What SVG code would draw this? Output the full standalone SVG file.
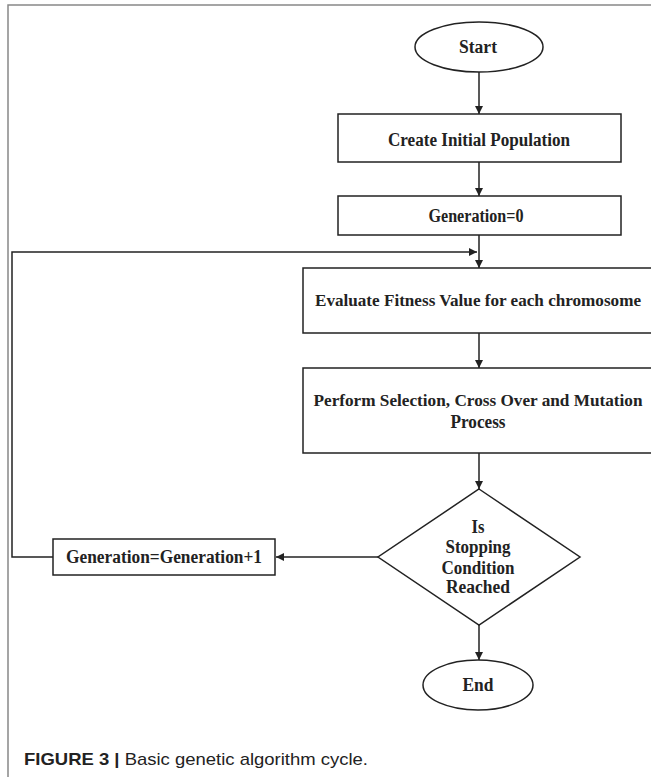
<svg xmlns="http://www.w3.org/2000/svg" width="651" height="777" viewBox="0 0 651 777">
<defs>
<style>
.n{fill:#fff;stroke:#222;stroke-width:1.5}
.t{font-family:"Liberation Serif","Times New Roman",serif;font-weight:bold;font-size:18.5px;fill:#222;text-anchor:middle}
.s{font-size:17px}
.c{fill:none;stroke:#222;stroke-width:1.5}
.cap{font-family:"Liberation Sans",Arial,sans-serif;font-size:17px;fill:#222}
</style>
<marker id="ah" viewBox="0 0 10 10" refX="10" refY="5" markerWidth="8" markerHeight="8" markerUnits="userSpaceOnUse" orient="auto">
<path d="M0,0 L10,5 L0,10 z" fill="#222"/>
</marker>
</defs>
<rect width="651" height="777" fill="#fff"/>
<g id="frame">
<path d="M8,777 V5 H651" fill="none" stroke="#888" stroke-width="1.5"/>
</g>
<g id="connectors">
<path class="c" d="M479,72 V114" marker-end="url(#ah)"/>
<path class="c" d="M479,162 V196" marker-end="url(#ah)"/>
<path class="c" d="M479,235 V268" marker-end="url(#ah)"/>
<path class="c" d="M479,333 V368" marker-end="url(#ah)"/>
<path class="c" d="M479,453 V489" marker-end="url(#ah)"/>
<path class="c" d="M378,557 H276" marker-end="url(#ah)"/>
<path class="c" d="M53,557 H12 V252 H477" marker-end="url(#ah)"/>
<path class="c" d="M479,625 V660" marker-end="url(#ah)"/>
</g>
<g id="start">
<ellipse class="n" cx="479" cy="47" rx="64" ry="25"/>
<text class="t" x="478" y="53" textLength="38" lengthAdjust="spacingAndGlyphs">Start</text>
</g>
<g id="create">
<rect class="n" x="338" y="114" width="283" height="48"/>
<text class="t" x="479" y="146" textLength="182" lengthAdjust="spacingAndGlyphs">Create Initial Population</text>
</g>
<g id="gen0">
<rect class="n" x="338" y="196" width="283" height="39"/>
<text class="t" x="476" y="222" textLength="95" lengthAdjust="spacingAndGlyphs">Generation=0</text>
</g>
<g id="evaluate">
<rect x="303" y="268" width="348" height="65" fill="#fff"/>
<path class="c" d="M651,268 H303 V333 H651"/>
<text class="t s" x="478" y="306" textLength="326" lengthAdjust="spacingAndGlyphs">Evaluate Fitness Value for each chromosome</text>
</g>
<g id="perform">
<rect x="303" y="368" width="348" height="85" fill="#fff"/>
<path class="c" d="M651,368 H303 V453 H651"/>
<text class="t s" x="478" y="406" textLength="329" lengthAdjust="spacingAndGlyphs">Perform Selection, Cross Over and Mutation</text>
<text class="t" x="478" y="428" textLength="55" lengthAdjust="spacingAndGlyphs">Process</text>
</g>
<g id="decision">
<path class="n" d="M479,489 L580,557 L479,625 L378,557 Z"/>
<text class="t" x="478" y="533" textLength="13" lengthAdjust="spacingAndGlyphs">Is</text>
<text class="t" x="478" y="553" textLength="65" lengthAdjust="spacingAndGlyphs">Stopping</text>
<text class="t" x="478" y="574" textLength="73" lengthAdjust="spacingAndGlyphs">Condition</text>
<text class="t" x="478" y="593" textLength="64" lengthAdjust="spacingAndGlyphs">Reached</text>
</g>
<g id="increment">
<rect class="n" x="53" y="539" width="222" height="36"/>
<text class="t" x="164" y="563" textLength="196" lengthAdjust="spacingAndGlyphs">Generation=Generation+1</text>
</g>
<g id="end">
<ellipse class="n" cx="478" cy="685" rx="55" ry="25"/>
<text class="t" x="478" y="691" textLength="31" lengthAdjust="spacingAndGlyphs">End</text>
</g>
<g id="caption">
<text class="cap" x="24" y="765" textLength="344" lengthAdjust="spacingAndGlyphs"><tspan font-weight="bold">FIGURE 3 |</tspan> Basic genetic algorithm cycle.</text>
</g>
</svg>
